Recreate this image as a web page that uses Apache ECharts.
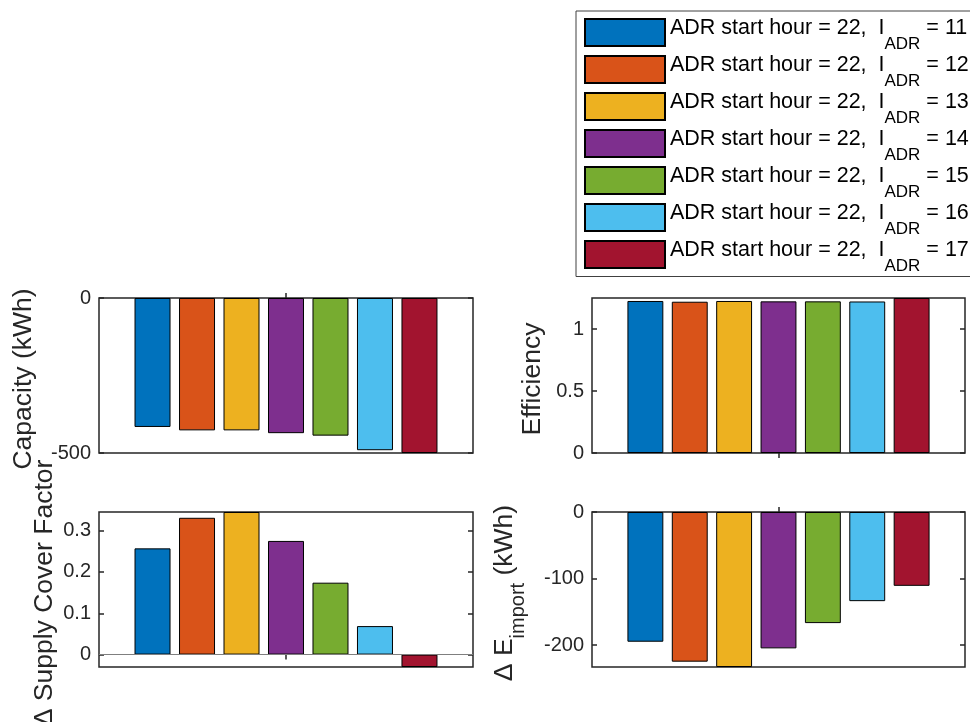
<!DOCTYPE html>
<html>
<head>
<meta charset="utf-8">
<script src="https://cdn.jsdelivr.net/npm/echarts@6/dist/echarts.min.js"></script>
<style>
  html, body { margin: 0; padding: 0; background: #fff; }
  #chart { width: 970px; height: 722px; }
</style>
</head>
<body>
<div id="chart"></div>
<script>
// ADR scenarios: start hour fixed at 22, ADR length varied
const startHour = 22;
const adrLengths = [11, 12, 13, 14, 15, 16, 17];
const colors = ['#0072BD', '#D95319', '#EDB120', '#7E2F8E', '#77AC30', '#4DBEEE', '#A2142F'];

// Results per scenario
const capacity = [-416, -427, -427, -436, -444, -491, -500];        // kWh
const efficiency = [1.226, 1.220, 1.226, 1.223, 1.223, 1.222, 1.25];
const coverFactor = [0.257, 0.331, 0.345, 0.275, 0.174, 0.069, -0.03];
const importDelta = [-195, -225, -233, -205, -167, -134, -111];     // kWh

// Tick values per panel
const capacityTicks = [-500, 0];
const efficiencyTicks = [0, 0.5, 1];
const coverTicks = [0, 0.1, 0.2, 0.3];
const importTicks = [-200, -100, 0];

const FONT = 'Liberation Sans, Arial, Helvetica, sans-serif';
const INK = '#262626';
const NAME_SIZE = 26.5;

const panels = [
  { left: 99,  top: 298, width: 374, height: 155, data: capacity,    min: -500,  max: 0,     ticks: capacityTicks,   name: 'Capacity (kWh)', gap: 62 },
  { left: 592, top: 298, width: 373, height: 155, data: efficiency,  min: 0,     max: 1.25,  ticks: efficiencyTicks, name: 'Efficiency', gap: 46 },
  { left: 99,  top: 512, width: 374, height: 155, data: coverFactor, min: -0.03, max: 0.345, ticks: coverTicks,      name: '\u0394 Supply Cover Factor', gap: 41, baseline: true },
  { left: 592, top: 512, width: 373, height: 155, data: importDelta, min: -233,  max: 0,     ticks: importTicks,     name: '{m|\u0394 E}{s|import}{m| (kWh)}', gap: 73 }
];

const seriesName = i => 'ADR start hour = ' + startHour + ', I_ADR = ' + adrLengths[i];

const grid = [], xAxis = [], yAxis = [], series = [];
panels.forEach((p, k) => {
  grid.push({
    left: p.left, top: p.top, width: p.width, height: p.height,
    outerBoundsMode: 'none', containLabel: false,
    show: true, borderColor: INK, borderWidth: 1.5, backgroundColor: 'transparent'
  });
  const tickStyle = { show: true, inside: true, length: 5, lineStyle: { color: INK, width: 1.5 } };
  // bottom and top category axes (single group of bars)
  xAxis.push({
    type: 'category', gridIndex: k, data: ['1'], position: 'bottom',
    axisLine: { show: false }, axisLabel: { show: false },
    axisTick: Object.assign({ alignWithLabel: true }, tickStyle)
  });
  xAxis.push({
    type: 'category', gridIndex: k, data: ['1'], position: 'top',
    axisLine: { show: false }, axisLabel: { show: false },
    axisTick: Object.assign({ alignWithLabel: true }, tickStyle)
  });
  const isRich = p.name.indexOf('{m|') === 0;
  yAxis.push({
    type: 'value', gridIndex: k, min: p.min, max: p.max, position: 'left',
    axisLine: { show: false }, splitLine: { show: false },
    axisTick: Object.assign({ customValues: p.ticks }, tickStyle),
    axisLabel: { customValues: p.ticks, color: INK, fontFamily: FONT, fontSize: 20, margin: 8 },
    name: p.name, nameLocation: 'middle', nameGap: p.gap,
    nameTextStyle: {
      color: INK, fontFamily: FONT, fontSize: NAME_SIZE,
      padding: [0, 7, 0, 0],
      rich: isRich ? {
        m: { fontFamily: FONT, fontSize: NAME_SIZE, color: INK, lineHeight: 28, verticalAlign: 'top' },
        s: { fontFamily: FONT, fontSize: 20, color: INK, lineHeight: 20, padding: [17, 0, 0, 0], verticalAlign: 'top' }
      } : undefined
    }
  });
  yAxis.push({
    type: 'value', gridIndex: k, min: p.min, max: p.max, position: 'right',
    axisLine: { show: false }, splitLine: { show: false },
    axisTick: Object.assign({ customValues: p.ticks }, tickStyle),
    axisLabel: { show: false }
  });
  p.data.forEach((v, i) => {
    const s = {
      name: seriesName(i), type: 'bar',
      xAxisIndex: 2 * k, yAxisIndex: 2 * k,
      data: [v],
      barGap: '23.6%', barCategoryGap: '19%',
      itemStyle: { color: colors[i], borderColor: '#000', borderWidth: 1 },
      emphasis: { disabled: true },
      animation: false
    };
    if (p.baseline && i === 0) {
      s.markLine = {
        silent: true, symbol: 'none', label: { show: false },
        lineStyle: { color: '#7f7f7f', width: 1, type: 'solid' },
        data: [{ yAxis: 0 }]
      };
    }
    series.push(s);
  });
});

const chart = echarts.init(document.getElementById('chart'));
chart.setOption({
  animation: false,
  backgroundColor: '#fff',
  grid, xAxis, yAxis, series,
  legend: {
    orient: 'vertical', left: 576, top: 11,
    data: adrLengths.map((_, i) => seriesName(i)),
    icon: 'rect', itemWidth: 80, itemHeight: 27, itemGap: 1.5,
    padding: [6, 40, 2, 8],
    borderColor: '#404040', borderWidth: 1, backgroundColor: '#fff',
    selectedMode: false,
    formatter: name => {
      const n = name.split('= ').pop();
      return '{a|ADR start hour = ' + startHour + ',  I}{s|ADR}{a| = ' + n + '}';
    },
    textStyle: {
      color: '#000', fontFamily: FONT, fontSize: 21.5,
      padding: [0, 0, 10, 0],
      rich: {
        a: { fontFamily: FONT, fontSize: 21.5, color: '#000', lineHeight: 21, verticalAlign: 'top' },
        s: { fontFamily: FONT, fontSize: 17, color: '#000', lineHeight: 16, padding: [18.5, 0, 0, 0], verticalAlign: 'top' }
      }
    }
  }
});
</script>
</body>
</html>
